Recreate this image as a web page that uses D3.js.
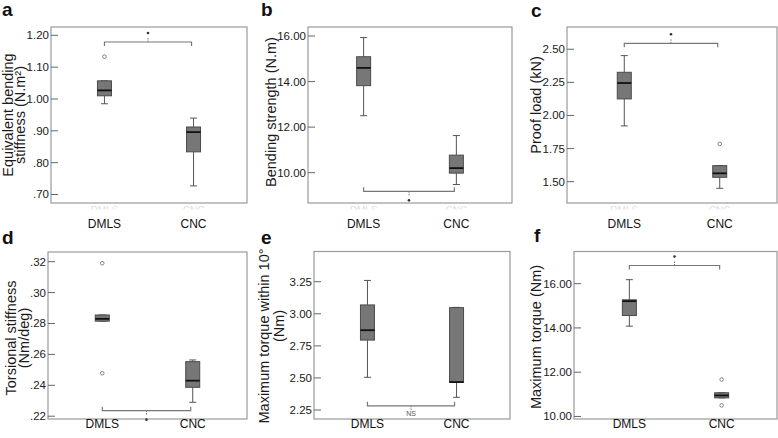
<!DOCTYPE html>
<html>
<head>
<meta charset="utf-8">
<script src="https://cdn.jsdelivr.net/npm/d3@7"></script>
<style>
  html, body { margin: 0; padding: 0; background: #fff; }
  svg { display: block; font-family: "Liberation Sans", Arial, sans-serif; }
</style>
</head>
<body>
<div id="chart"></div>
<script>
const groups = ["DMLS", "CNC"];

// five-number summaries per group: [low whisker, q1, median, q3, high whisker]
const stiffnessBox = [[0.985, 1.010, 1.027, 1.057, 1.057], [0.727, 0.834, 0.896, 0.912, 0.940]];
const stiffnessOutliers = [[1.133], []];
const stiffnessTicks = [0.70, 0.80, 0.90, 1.00, 1.10, 1.20];
const stiffnessTickLabels = [".70", ".80", ".90", "1.00", "1.10", "1.20"];

const strengthBox = [[12.50, 13.82, 14.60, 15.09, 15.93], [9.48, 9.98, 10.20, 10.77, 11.63]];
const strengthOutliers = [[], []];
const strengthTicks = [10, 12, 14, 16];
const strengthTickLabels = ["10.00", "12.00", "14.00", "16.00"];

const proofBox = [[1.921, 2.125, 2.245, 2.326, 2.452], [1.450, 1.533, 1.563, 1.621, 1.621]];
const proofOutliers = [[], [1.785]];
const proofTicks = [1.50, 1.75, 2.00, 2.25, 2.50];
const proofTickLabels = ["1.50", "1.75", "2.00", "2.25", "2.50"];

const torsionBox = [[0.2815, 0.2815, 0.2830, 0.2855, 0.2855], [0.2290, 0.2387, 0.2430, 0.2553, 0.2564]];
const torsionOutliers = [[0.319, 0.2478], []];
const torsionTicks = [0.22, 0.24, 0.26, 0.28, 0.30, 0.32];
const torsionTickLabels = [".22", ".24", ".26", ".28", ".30", ".32"];

const torque10Box = [[2.505, 2.795, 2.872, 3.069, 3.260], [2.349, 2.465, 2.468, 3.048, 3.050]];
const torque10Outliers = [[], []];
const torque10Ticks = [2.25, 2.50, 2.75, 3.00, 3.25];
const torque10TickLabels = ["2.25", "2.50", "2.75", "3.00", "3.25"];

const maxTorqueBox = [[14.08, 14.56, 15.21, 15.27, 16.18], [10.84, 10.84, 10.95, 11.07, 11.07]];
const maxTorqueOutliers = [[], [11.67, 10.50]];
const maxTorqueTicks = [10, 12, 14, 16];
const maxTorqueTickLabels = ["10.00", "12.00", "14.00", "16.00"];

const signif = ["*", "*", "*", "*", "NS", "*"];

// layout: frame box, y domain, title placement, bracket level (data units)
const panels = [
  { letter: "a", lx: 2, ly: 16, left: 51, right: 247, top: 27, bottom: 203, domain: [0.6733, 1.2261],
    box: stiffnessBox, out: stiffnessOutliers, ticks: stiffnessTicks, tickLabels: stiffnessTickLabels,
    title: ["Equivalent bending", "stiffness (N.m\u00b2)"], tx: [13, 25], ty: 115, bracket: 1.179, up: true },
  { letter: "b", lx: 261, ly: 16, left: 308, right: 512, top: 27, bottom: 203, domain: [8.669, 16.395],
    box: strengthBox, out: strengthOutliers, ticks: strengthTicks, tickLabels: strengthTickLabels,
    title: ["Bending strength (N.m)"], tx: [275.5], ty: 112, bracket: 9.18, up: false },
  { letter: "c", lx: 531, ly: 17, left: 567, right: 777, top: 27, bottom: 203, domain: [1.339, 2.668],
    box: proofBox, out: proofOutliers, ticks: proofTicks, tickLabels: proofTickLabels,
    title: ["Proof load (kN)"], tx: [541], ty: 105, bracket: 2.545, up: true },
  { letter: "d", lx: 2, ly: 244, left: 48, right: 247, top: 252, bottom: 419, domain: [0.21819, 0.32627],
    box: torsionBox, out: torsionOutliers, ticks: torsionTicks, tickLabels: torsionTickLabels,
    title: ["Torsional stiffness", "(Nm/deg)"], tx: [16, 29], ty: 338, bracket: 0.2236, up: false },
  { letter: "e", lx: 261, ly: 244, left: 314, right: 510, top: 251.5, bottom: 419, domain: [2.1801, 3.4854],
    box: torque10Box, out: torque10Outliers, ticks: torque10Ticks, tickLabels: torque10TickLabels,
    title: ["Maximum torque within 10\u00b0", "(Nm)"], tx: [269, 284], ty: [336, 326], bracket: 2.283, up: false },
  { letter: "f", lx: 534, ly: 242, left: 574, right: 777, top: 251.5, bottom: 419, domain: [9.885, 17.453],
    box: maxTorqueBox, out: maxTorqueOutliers, ticks: maxTorqueTicks, tickLabels: maxTorqueTickLabels,
    title: ["Maximum torque (Nm)"], tx: [541], ty: 337, bracket: 16.82, up: true }
];

const W = 778, H = 438;
const svg = d3.select("#chart").append("svg").attr("width", W).attr("height", H);

const frameColor = "#9a9a9a", lineColor = "#555", boxFill = "#777", boxStroke = "#4a4a4a";

panels.forEach((p, i) => {
  const x = d3.scalePoint().domain(groups).range([p.left, p.right]).padding(0.6);
  const y = d3.scaleLinear().domain(p.domain).range([p.bottom, p.top]);
  const g = svg.append("g");
  const bw = 14, cap = 7;

  g.append("text").attr("x", p.lx).attr("y", p.ly)
    .attr("font-size", 19).attr("font-weight", "bold").attr("fill", "#111").text(p.letter);

  // faint clipped labels under top row frames
  if (p.top < 100) {
    const cid = "clip" + i;
    svg.append("clipPath").attr("id", cid).append("rect")
      .attr("x", p.left).attr("y", p.bottom + 2.5).attr("width", p.right - p.left).attr("height", 4);
    g.append("g").attr("clip-path", `url(#${cid})`).selectAll("text").data(groups).join("text")
      .attr("x", d => x(d)).attr("y", p.bottom + 11).attr("text-anchor", "middle")
      .attr("font-size", 10).attr("fill", "#e0e0e0").text(d => d);
  }

  g.append("rect").attr("x", p.left).attr("y", p.top)
    .attr("width", p.right - p.left).attr("height", p.bottom - p.top)
    .attr("fill", "none").attr("stroke", frameColor).attr("stroke-width", 1.2);

  // y axis ticks (inward) and labels
  g.selectAll("line.tick").data(p.ticks).join("line").attr("class", "tick")
    .attr("x1", p.left).attr("x2", p.left + 7)
    .attr("y1", d => y(d)).attr("y2", d => y(d))
    .attr("stroke", "#666").attr("stroke-width", 1);
  g.selectAll("text.tl").data(p.ticks).join("text").attr("class", "tl")
    .attr("x", p.left - 2).attr("y", d => y(d) + 4).attr("text-anchor", "end")
    .attr("font-size", 11.5).attr("fill", "#1a1a1a")
    .text((d, k) => p.tickLabels[k]);

  // y title
  p.title.forEach((t, k) => {
    const cy = Array.isArray(p.ty) ? p.ty[k] : p.ty;
    g.append("text").attr("transform", `translate(${p.tx[k]},${cy}) rotate(-90)`)
      .attr("text-anchor", "middle").attr("font-size", 14.5).attr("fill", "#1a1a1a").text(t);
  });

  // x labels
  const labY = p.top < 100 ? 227.5 : 427.5;
  g.selectAll("text.xl").data(groups).join("text").attr("class", "xl")
    .attr("x", d => x(d)).attr("y", labY).attr("text-anchor", "middle")
    .attr("font-size", 12).attr("fill", "#111").text(d => d);

  // boxes
  groups.forEach((grp, k) => {
    const [lo, q1, med, q3, hi] = p.box[k];
    const cx = x(grp);
    g.append("line").attr("x1", cx).attr("x2", cx).attr("y1", y(hi)).attr("y2", y(q3))
      .attr("stroke", lineColor);
    g.append("line").attr("x1", cx).attr("x2", cx).attr("y1", y(q1)).attr("y2", y(lo))
      .attr("stroke", lineColor);
    [lo, hi].forEach(v => g.append("line").attr("x1", cx - cap / 2).attr("x2", cx + cap / 2)
      .attr("y1", y(v)).attr("y2", y(v)).attr("stroke", lineColor));
    g.append("rect").attr("x", cx - bw / 2).attr("y", y(q3))
      .attr("width", bw).attr("height", Math.max(1, y(q1) - y(q3)))
      .attr("fill", boxFill).attr("stroke", boxStroke).attr("stroke-width", 1);
    g.append("line").attr("x1", cx - bw / 2).attr("x2", cx + bw / 2)
      .attr("y1", y(med)).attr("y2", y(med)).attr("stroke", "#111").attr("stroke-width", 1.8);
    g.selectAll(null).data(p.out[k]).join("circle")
      .attr("cx", cx).attr("cy", d => y(d)).attr("r", 1.8)
      .attr("fill", "#fff").attr("stroke", "#777").attr("stroke-width", 0.9);
  });

  // significance bracket
  const by = y(p.bracket), dir = p.up ? 1 : -1;
  const x1 = x(groups[0]), x2 = x(groups[1]) - 2, xm = (x1 + x2) / 2;
  g.append("path")
    .attr("d", `M${x1},${by + 4 * dir}V${by}H${x2}V${by + 4 * dir}`)
    .attr("fill", "none").attr("stroke", "#777").attr("stroke-width", 1.2);
  g.append("line").attr("x1", xm).attr("x2", xm).attr("y1", by).attr("y2", by - 4 * dir)
    .attr("stroke", "#777").attr("stroke-dasharray", "1.5,1");
  if (signif[i] === "*") {
    g.append("circle").attr("cx", xm).attr("cy", by - 9 * dir).attr("r", 1.3).attr("fill", "#333");
  } else {
    g.append("text").attr("x", xm).attr("y", by - 7 * dir + 3).attr("text-anchor", "middle")
      .attr("font-size", 7).attr("fill", "#555").text(signif[i]);
  }
});
</script>
</body>
</html>
